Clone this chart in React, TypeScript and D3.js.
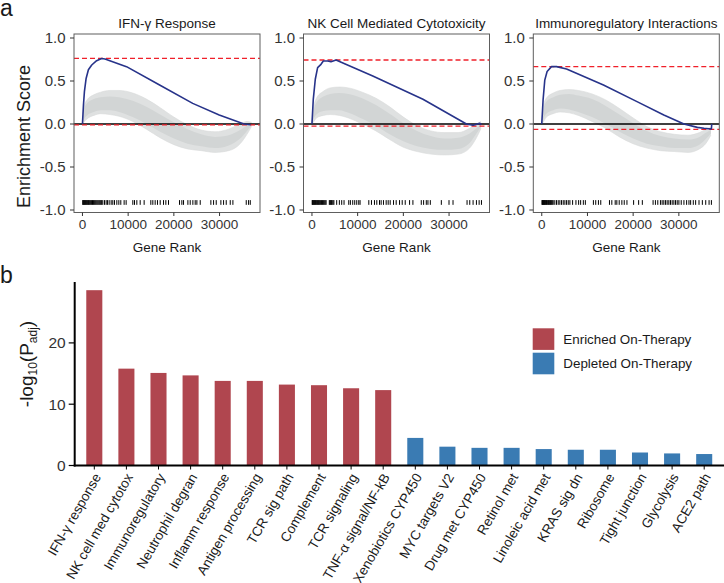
import React from "react";
import * as d3 from "d3";

// ---------- Panel a: GSEA enrichment plots ----------
const gseaTitles = ["IFN-γ Response", "NK Cell Mediated Cytotoxicity", "Immunoregulatory Interactions"];

const esCurve1: [number, number][] = [[0,0],[220,0.22],[430,0.376],[800,0.53],[1300,0.63],[2030,0.686],[3100,0.736],[4200,0.762],[4930,0.756],[9640,0.667],[16880,0.453],[24130,0.24],[29930,0.105],[35360,0],[36800,-0.008]];
const esCurve2: [number, number][] = [[0,0],[290,0.287],[730,0.52],[1240,0.655],[1980,0.694],[2490,0.733],[3440,0.733],[4170,0.725],[5270,0.744],[13310,0.558],[24290,0.287],[33800,0],[35260,-0.015],[36720,0.008],[37090,-0.008]];
const esCurve3: [number, number][] = [[0,0],[290,0.279],[660,0.51],[1170,0.61],[2130,0.667],[3230,0.667],[5430,0.64],[13500,0.453],[20840,0.26],[26710,0.105],[31110,0],[34040,-0.039],[35510,-0.05],[37120,-0.058],[37200,0]];

const esMax = [0.763, 0.744, 0.667];
const esMin = [-0.01, -0.025, -0.062];

const nullRanks = [0, 300, 1000, 2500, 4000, 6000, 8000, 11000, 14000, 17000, 20000, 23000, 26000, 29000, 32000, 34500, 36000, 37000];
const nullOuterUp1 = [0, 0.2, 0.28, 0.34, 0.37, 0.39, 0.39, 0.36, 0.29, 0.19, 0.08, -0.01, -0.07, -0.09, -0.06, 0.0, 0.03, 0.02];
const nullOuterLo1 = [0, 0.02, 0.06, 0.1, 0.12, 0.11, 0.09, 0.03, -0.06, -0.16, -0.24, -0.29, -0.31, -0.33, -0.31, -0.23, -0.12, -0.03];
const nullInnerUp1 = [0, 0.16, 0.24, 0.29, 0.31, 0.32, 0.31, 0.27, 0.2, 0.11, 0.02, -0.06, -0.12, -0.15, -0.13, -0.07, -0.02, 0.0];
const nullInnerLo1 = [0, 0.05, 0.1, 0.14, 0.16, 0.16, 0.14, 0.08, 0.0, -0.09, -0.17, -0.23, -0.26, -0.28, -0.25, -0.17, -0.08, -0.02];

const nullOuterUp2 = [0, 0.17, 0.3, 0.38, 0.42, 0.43, 0.42, 0.37, 0.3, 0.2, 0.08, -0.02, -0.08, -0.1, -0.1, -0.05, 0.0, 0.03];
const nullOuterLo2 = [0, 0.02, 0.07, 0.1, 0.11, 0.1, 0.07, 0.0, -0.08, -0.18, -0.27, -0.32, -0.35, -0.36, -0.35, -0.28, -0.16, -0.05];
const nullInnerUp2 = [0, 0.13, 0.25, 0.32, 0.35, 0.36, 0.35, 0.3, 0.22, 0.12, 0.01, -0.08, -0.14, -0.17, -0.16, -0.11, -0.05, 0.0];
const nullInnerLo2 = [0, 0.05, 0.11, 0.15, 0.16, 0.16, 0.13, 0.06, -0.02, -0.12, -0.2, -0.26, -0.29, -0.3, -0.29, -0.22, -0.11, -0.03];

const nullOuterUp3 = [0, 0.19, 0.3, 0.36, 0.39, 0.4, 0.39, 0.35, 0.28, 0.18, 0.07, -0.03, -0.09, -0.12, -0.13, -0.1, -0.06, -0.04];
const nullOuterLo3 = [0, 0.02, 0.08, 0.12, 0.14, 0.13, 0.1, 0.03, -0.05, -0.15, -0.23, -0.28, -0.31, -0.32, -0.33, -0.29, -0.22, -0.13];
const nullInnerUp3 = [0, 0.15, 0.26, 0.31, 0.34, 0.35, 0.33, 0.29, 0.21, 0.11, 0.01, -0.08, -0.14, -0.17, -0.18, -0.15, -0.1, -0.07];
const nullInnerLo3 = [0, 0.05, 0.12, 0.16, 0.18, 0.17, 0.14, 0.08, 0.0, -0.09, -0.17, -0.23, -0.26, -0.28, -0.28, -0.24, -0.17, -0.11];

const hits1 = [60,180,300,420,560,700,850,1000,1150,1300,1450,1600,1800,2000,2200,2400,2600,2800,3000,3200,3400,3600,3800,4000,4200,4450,
  4820,5180,5470,5840,6280,6640,7010,7520,7960,8390,9120,9560,11020,11390,11900,12630,13500,14960,15400,15910,16420,17010,17740,18250,18830,
  21240,21750,22120,23070,23580,24160,24670,25040,25770,28100,28690,29270,30290,30880,31460,32340,32920,35840,36350,36720];
const hits2 = [50,150,280,400,520,650,800,950,1100,1250,1400,1550,1700,1900,2100,2300,2500,2700,2900,3100,3800,3950,4100,4250,4400,4600,4800,
  5410,6000,6510,7020,8050,8410,8920,9360,9800,10240,10530,12440,13020,13680,14190,14780,15140,15650,16240,16680,17120,17850,18430,19170,19750,
  20410,21360,22090,23920,24430,25020,25380,25900,28310,29990,30870,33940,34530,35260,35990,36580,37090];
const hits3 = [50,150,250,350,450,550,650,780,900,1050,1200,1350,1500,1650,1800,1950,2100,2300,2500,
  2860,3230,3600,3960,4330,4700,5060,5430,5800,6160,6750,7480,8070,8510,9100,9540,11300,11810,12400,12910,14820,15330,16070,16430,16950,
  17530,18050,18640,20100,21200,22010,24360,24870,25390,25970,26340,26710,27070,27440,27810,28170,28540,28910,29270,29640,30010,30520,
  31110,31700,32210,32580,33160,33670,34410,35140,35880,36610,37120];

const esTicks = [-1.0, -0.5, 0.0, 0.5, 1.0];
const rankTicks = [0, 10000, 20000, 30000];

// ---------- Panel b: bar chart ----------
const pathways = ["IFN-γ response", "NK cell med cytotox", "Immunoregulatory", "Neutrophil degran", "Inflamm response",
  "Antigen processing", "TCR sig path", "Complement", "TCR signaling", "TNF-α  signal/NF-kB", "Xenobiotics CYP450",
  "MYC targets V2", "Drug met CYP450", "Retinol met", "Linoleic acid met", "KRAS sig dn", "Ribosome", "Tight junction",
  "Glycolysis", "ACE2 path"];
const negLogP = [28.6, 15.8, 15.1, 14.7, 13.8, 13.8, 13.2, 13.1, 12.6, 12.3, 4.5, 3.07, 2.88, 2.88, 2.68, 2.57, 2.57, 2.12, 1.97, 1.87];
const direction = ["Enriched","Enriched","Enriched","Enriched","Enriched","Enriched","Enriched","Enriched","Enriched","Enriched",
  "Depleted","Depleted","Depleted","Depleted","Depleted","Depleted","Depleted","Depleted","Depleted","Depleted"];
const legendLabels = ["Enriched On-Therapy", "Depleted On-Therapy"];
const barTicks = [0, 10, 20];

const FONT = "Liberation Sans, Arial, Helvetica, sans-serif";
const RED = "#b0464f";
const BLUE = "#3a7bb3";
const NAVY = "#27338a";
const DASH_RED = "#f0202a";

function fmtES(v: number) {
  return v.toFixed(1);
}

function GseaPanel({ left, idx }: { left: number; idx: number }) {
  const width = 186;
  const top = 34;
  const bottom = 212.5;
  const x = d3.scaleLinear().domain([-1850, 38850]).range([left, left + width]);
  const y = d3.scaleLinear().domain([-1, 1]).range([210, 38]);
  const curves = [esCurve1, esCurve2, esCurve3];
  const outerUp = [nullOuterUp1, nullOuterUp2, nullOuterUp3][idx];
  const outerLo = [nullOuterLo1, nullOuterLo2, nullOuterLo3][idx];
  const innerUp = [nullInnerUp1, nullInnerUp2, nullInnerUp3][idx];
  const innerLo = [nullInnerLo1, nullInnerLo2, nullInnerLo3][idx];
  const hits = [hits1, hits2, hits3][idx];

  const outerPath = d3.area<number>()
    .x((_, i) => x(nullRanks[i]))
    .y0((_, i) => y(outerLo[i]))
    .y1((_, i) => y(outerUp[i]))
    .curve(d3.curveMonotoneX)(nullRanks) || "";
  const innerPath = d3.area<number>()
    .x((_, i) => x(nullRanks[i]))
    .y0((_, i) => y(innerLo[i]))
    .y1((_, i) => y(innerUp[i]))
    .curve(d3.curveMonotoneX)(nullRanks) || "";
  const upLine = d3.line<number>().x((_, i) => x(nullRanks[i])).y((_, i) => y(outerUp[i])).curve(d3.curveMonotoneX)(nullRanks) || "";
  const loLine = d3.line<number>().x((_, i) => x(nullRanks[i])).y((_, i) => y(outerLo[i])).curve(d3.curveMonotoneX)(nullRanks) || "";
  const esLine = d3.line<[number, number]>().x(d => x(d[0])).y(d => y(d[1]))(curves[idx]) || "";
  const cx = left + width / 2;

  return (
    <g>
      <text x={cx} y={28} textAnchor="middle" fontSize={13.5} fill="#1a1a1a" fontFamily={FONT}>{gseaTitles[idx]}</text>
      <path d={outerPath} fill="#dfe1e1" />
      <path d={innerPath} fill="#d2d5d5" />
      <path d={upLine} fill="none" stroke="#d8dada" strokeWidth={0.6} />
      <path d={loLine} fill="none" stroke="#d8dada" strokeWidth={0.6} />
      <line x1={left} x2={left + width} y1={y(0)} y2={y(0)} stroke="#000" strokeWidth={1.6} />
      <line x1={left} x2={left + width} y1={y(esMax[idx])} y2={y(esMax[idx])} stroke={DASH_RED} strokeWidth={1.3} strokeDasharray="5,3" />
      <line x1={left} x2={left + width} y1={y(esMin[idx])} y2={y(esMin[idx])} stroke={DASH_RED} strokeWidth={1.3} strokeDasharray="5,3" />
      <path d={esLine} fill="none" stroke={NAVY} strokeWidth={1.6} strokeLinejoin="round" />
      {hits.map((h, i) => (
        <line key={i} x1={x(h)} x2={x(h)} y1={y(-0.885)} y2={y(-0.94)} stroke="#000" strokeWidth={1} />
      ))}
      <rect x={left} y={top} width={width} height={bottom - top} fill="none" stroke="#5e5e5e" strokeWidth={1} />
      {esTicks.map(t => (
        <g key={t}>
          <line x1={left - 4} x2={left} y1={y(t)} y2={y(t)} stroke="#333" strokeWidth={1} />
          <text x={left - 8.5} y={y(t)} dy="0.36em" textAnchor="end" fontSize={15} fill="#333" fontFamily={FONT}>{fmtES(t)}</text>
        </g>
      ))}
      {rankTicks.map(t => (
        <g key={t}>
          <line x1={x(t)} x2={x(t)} y1={bottom} y2={bottom + 3.5} stroke="#333" strokeWidth={1} />
          <text x={x(t)} y={bottom + 16} textAnchor="middle" fontSize={13.5} fill="#333" fontFamily={FONT}>{t}</text>
        </g>
      ))}
      <text x={cx} y={252} textAnchor="middle" fontSize={13.5} fill="#1a1a1a" fontFamily={FONT}>Gene Rank</text>
    </g>
  );
}

function BarPanel() {
  const x = d3.scaleBand<string>().domain(pathways).range([78.25, 720.25]).paddingInner(0.5).paddingOuter(0.25);
  const y = d3.scaleLinear().domain([0, 10]).range([465.5, 404.2]);
  const axisX = 74.7;
  const bw = x.bandwidth();
  return (
    <g>
      {pathways.map((p, i) => (
        <rect key={p} x={x(p)!} y={y(negLogP[i])} width={bw} height={y(0) - y(negLogP[i])}
          fill={direction[i] === "Enriched" ? RED : BLUE} />
      ))}
      <line x1={axisX} x2={axisX} y1={282} y2={y(0) + 1} stroke="#000" strokeWidth={2} />
      <line x1={axisX - 1} x2={724} y1={y(0)} y2={y(0)} stroke="#000" strokeWidth={2} />
      {barTicks.map(t => (
        <g key={t}>
          <line x1={axisX - 6} x2={axisX} y1={y(t)} y2={y(t)} stroke="#000" strokeWidth={1.2} />
          <text x={axisX - 9} y={y(t)} dy="0.36em" textAnchor="end" fontSize={15.5} fill="#333" fontFamily={FONT}>{t}</text>
        </g>
      ))}
      {pathways.map(p => {
        const cx = x(p)! + bw / 2;
        return (
          <g key={p}>
            <line x1={cx} x2={cx} y1={y(0)} y2={y(0) + 4} stroke="#000" strokeWidth={1} />
            <text transform={`translate(${cx + 3},${y(0) + 9}) rotate(-60)`} dy="0.35em" textAnchor="end"
              fontSize={13.5} fill="#1a1a1a" fontFamily={FONT}>{p}</text>
          </g>
        );
      })}
      <text transform={`translate(33,364) rotate(-90)`} textAnchor="middle" fontSize={19} fill="#1a1a1a" fontFamily={FONT}>
        -log<tspan fontSize={12} dy="4">10</tspan><tspan dy="-4">(P</tspan><tspan fontSize={12} dy="4">adj</tspan><tspan dy="-4">)</tspan>
      </text>
      {legendLabels.map((l, i) => (
        <g key={l}>
          <rect x={532.7} y={328.3 + i * 24.4} width={21.6} height={21.6} fill={i === 0 ? RED : BLUE} />
          <text x={563.3} y={339.2 + i * 24.4} dy="0.36em" fontSize={13.4} fill="#1a1a1a" fontFamily={FONT}>{l}</text>
        </g>
      ))}
    </g>
  );
}

export default function App() {
  const lefts = [74, 303.5, 533.3];
  return (
    <svg width={724} height={583} style={{ position: "absolute", left: 0, top: 0, background: "#fff" }}>
      <rect width={724} height={583} fill="#fff" />
      <text x={0} y={16} fontSize={23} fill="#1a1a1a" fontFamily={FONT}>a</text>
      <text x={0} y={283} fontSize={23} fill="#1a1a1a" fontFamily={FONT}>b</text>
      <text transform="translate(30,136.5) rotate(-90)" textAnchor="middle" fontSize={18} fill="#1a1a1a" fontFamily={FONT}>Enrichment Score</text>
      {lefts.map((l, i) => <GseaPanel key={i} left={l} idx={i} />)}
      <BarPanel />
    </svg>
  );
}
